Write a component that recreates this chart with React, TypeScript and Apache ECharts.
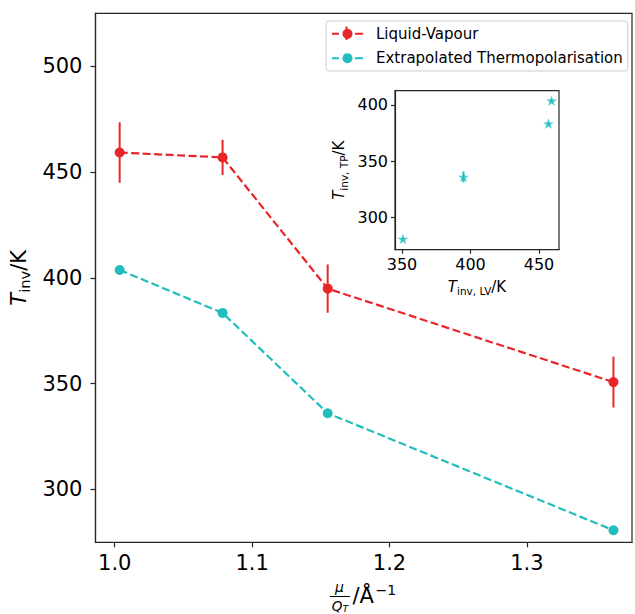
import React, { useEffect, useRef } from "react";
import * as echarts from "echarts";

// ---- data ----
const muOverQ = [1.0036, 1.0785, 1.155, 1.363];
const tLV = [459.2, 456.9, 394.9, 350.7];
const tLVErr = [14.3, 8.3, 11.4, 12.0];
const tTP = [403.7, 383.4, 336.0, 280.7];
const tTPErr = [1.5, 1.5, 4.8, 1.5];
const xTicks = [1.0, 1.1, 1.2, 1.3];
const yTicks = [300, 350, 400, 450, 500];
const insetXTicks = [350, 400, 450];
const insetYTicks = [300, 350, 400];
const seriesNames = ["Liquid-Vapour", "Extrapolated Thermopolarisation"];

const RED = "#e8262a";
const CYAN = "#22bdbd";
const AX = "#262626";
const FONT = "DejaVu Sans";
const STAR =
  "path://M0,-1 L-0.2245,-0.309 L-0.951,-0.309 L-0.363,0.118 L-0.588,0.809 L0,0.382 L0.588,0.809 L0.363,0.118 L0.951,-0.309 L0.2245,-0.309 Z";

function errSeries(xs: number[], ys: number[], errs: number[], color: string, axisIndex: number) {
  return {
    type: "custom",
    xAxisIndex: axisIndex,
    yAxisIndex: axisIndex,
    silent: true,
    z: 2,
    data: xs.map((x, i) => [x, ys[i], errs[i]]),
    encode: { x: 0, y: 1 },
    renderItem: (_p: any, api: any) => {
      const x = api.value(0);
      const y = api.value(1);
      const e = api.value(2);
      const a = api.coord([x, y - e]);
      const b = api.coord([x, y + e]);
      return {
        type: "line",
        shape: { x1: a[0], y1: a[1], x2: b[0], y2: b[1] },
        style: { stroke: color, lineWidth: 2 },
      };
    },
  };
}

const richName = (big: number, small: number) => ({
  rich: {
    i: { fontFamily: FONT, fontStyle: "italic", fontSize: big, lineHeight: big + 5, color: "#000" },
    s: { fontFamily: FONT, fontSize: small, lineHeight: small + 1, verticalAlign: "bottom", color: "#000" },
    n: { fontFamily: FONT, fontSize: big, lineHeight: big + 5, color: "#000" },
  },
});

export default function App() {
  const ref = useRef<HTMLDivElement>(null);
  useEffect(() => {
    if (!ref.current) return;
    const chart = echarts.init(ref.current, null, { renderer: "svg" });
    const axisCommon = (fs: number, margin: number, tickLen: number) => ({
      axisLine: { show: true, lineStyle: { color: AX, width: 1.2 } },
      axisTick: { show: true, length: tickLen, lineStyle: { color: AX, width: 1.2 } },
      splitLine: { show: false },
      axisLabel: { fontFamily: FONT, fontSize: fs, color: "#000", margin },
    });
    const mainX: any = axisCommon(21, 10, 5);
    const mainY: any = axisCommon(21, 13, 5);
    const insX: any = axisCommon(16, 7, 4);
    const insY: any = axisCommon(16, 7, 4);

    chart.setOption({
      animation: false,
      backgroundColor: "#fff",
      grid: [
        { left: 94.7, right: 3, top: 13.3, bottom: 71.7, show: true, borderColor: AX, borderWidth: 1.2 },
        {
          left: 395, top: 90.7, width: 164, height: 159, show: true,
          borderColor: AX, borderWidth: 1.2, backgroundColor: "#fff",
        },
      ],
      xAxis: [
        {
          type: "value", gridIndex: 0, min: 0.986, max: 1.3765,
          ...mainX,
          axisTick: { ...mainX.axisTick, customValues: xTicks },
          axisLabel: { ...mainX.axisLabel, customValues: xTicks, formatter: (v: number) => v.toFixed(1) },
        },
        {
          type: "value", gridIndex: 1, min: 344.9, max: 464.6,
          ...insX,
          axisTick: { ...insX.axisTick, customValues: insetXTicks },
          axisLabel: { ...insX.axisLabel, customValues: insetXTicks },
          name: "{i|T}{s|inv, LV}{n|/K}",
          nameLocation: "middle", nameGap: 27,
          nameTextStyle: richName(15, 10.5),
        },
      ],
      yAxis: [
        {
          type: "value", gridIndex: 0, min: 275, max: 525,
          ...mainY,
          axisTick: { ...mainY.axisTick, customValues: yTicks },
          axisLabel: { ...mainY.axisLabel, customValues: yTicks },
          name: "{i|T}{s|inv}{n|/K}",
          nameLocation: "middle", nameGap: 60, nameRotate: 90,
          nameTextStyle: richName(21, 14.7),
        },
        {
          type: "value", gridIndex: 1, min: 271.2, max: 412.7,
          ...insY,
          axisTick: { ...insY.axisTick, customValues: insetYTicks },
          axisLabel: { ...insY.axisLabel, customValues: insetYTicks },
          name: "{i|T}{s|inv, TP}{n|/K}",
          nameLocation: "middle", nameGap: 46, nameRotate: 90,
          nameTextStyle: richName(15, 10.5),
        },
      ],
      legend: {
        orient: "vertical", left: 326, top: 21,
        padding: [5.3, 5, 5.3, 5],
        itemWidth: 31, itemHeight: 12.5, itemGap: 9.4,
        borderColor: "#cccccc", borderWidth: 1, borderRadius: 3,
        backgroundColor: "rgba(255,255,255,0.8)",
        textStyle: { fontFamily: FONT, fontSize: 15, lineHeight: 14, color: "#000", padding: [0, 0, 0, 8] },
        data: seriesNames.map((n) => ({ name: n, lineStyle: { type: [7, 16, 8] } })),
      },
      graphic: [
        // error bar glyph in the red legend key
        { type: "line", z: 100, shape: { x1: 346.5, y1: 26.5, x2: 346.5, y2: 40 }, style: { stroke: RED, lineWidth: 2 } },
        // x-axis title: mu / Q_T / Å^-1
        { type: "text", z: 100, x: 339.5, y: 586.5, style: { text: "μ", fontFamily: FONT, fontStyle: "italic", fontSize: 14, fill: "#000", align: "center", verticalAlign: "middle" } },
        { type: "line", z: 100, shape: { x1: 330, y1: 596.5, x2: 350, y2: 596.5 }, style: { stroke: "#000", lineWidth: 1 } },
        {
          type: "text", z: 100, x: 340, y: 598.5,
          style: {
            text: "{q|Q}{t|T}", align: "center", verticalAlign: "top",
            rich: {
              q: { fontFamily: FONT, fontStyle: "italic", fontSize: 13.5, lineHeight: 15, fill: "#000" },
              t: { fontFamily: FONT, fontStyle: "italic", fontSize: 9.5, lineHeight: 10, verticalAlign: "bottom", fill: "#000" },
            },
          },
        },
        { type: "text", z: 100, x: 352.5, y: 596, style: { text: "/Å", fontFamily: FONT, fontSize: 21, fill: "#000", align: "left", verticalAlign: "middle" } },
        { type: "text", z: 100, x: 375.5, y: 590, style: { text: "−1", fontFamily: FONT, fontSize: 14, fill: "#000", align: "left", verticalAlign: "middle" } },
      ],
      series: [
        errSeries(muOverQ, tLV, tLVErr, RED, 0),
        {
          name: seriesNames[0], type: "line", xAxisIndex: 0, yAxisIndex: 0,
          data: muOverQ.map((x, i) => [x, tLV[i]]),
          symbol: "circle", symbolSize: 10, showSymbol: true,
          lineStyle: { color: RED, width: 2.2, type: [8, 3.5] },
          itemStyle: { color: RED }, z: 3,
        },
        {
          name: seriesNames[1], type: "line", xAxisIndex: 0, yAxisIndex: 0,
          data: muOverQ.map((x, i) => [x, tTP[i]]),
          symbol: "circle", symbolSize: 10, showSymbol: true,
          lineStyle: { color: CYAN, width: 2.2, type: [8, 3.5] },
          itemStyle: { color: CYAN }, z: 3,
        },
        errSeries(tLV, tTP, tTPErr, CYAN, 1),
        {
          type: "scatter", xAxisIndex: 1, yAxisIndex: 1,
          data: tLV.map((x, i) => [x, tTP[i]]),
          symbol: STAR, symbolSize: [11, 10.5], itemStyle: { color: CYAN }, z: 3,
        },
      ],
    });
    return () => chart.dispose();
  }, []);
  return (
    <div
      ref={ref}
      style={{ position: "fixed", left: 0, top: 0, width: 635, height: 614, background: "#fff" }}
    />
  );
}
